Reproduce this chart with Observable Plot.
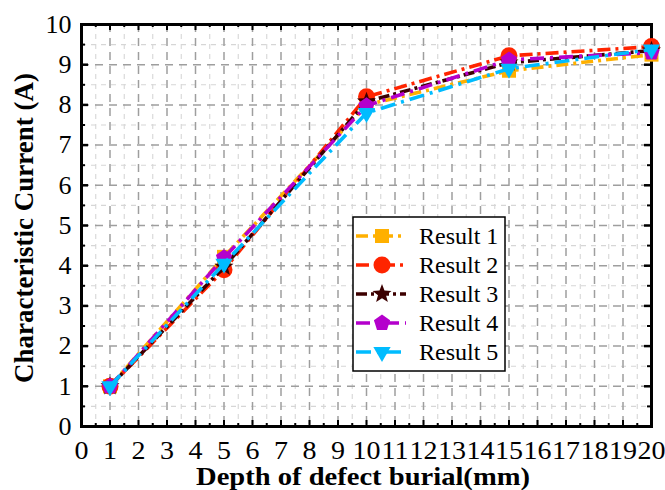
<!DOCTYPE html>
<html><head><meta charset="utf-8">
<script src="https://cdn.jsdelivr.net/npm/d3@7"></script>
<script src="https://cdn.jsdelivr.net/npm/@observablehq/plot@0.6"></script>
<style>
body{margin:0;background:#fff;}
#chart{position:relative;width:665px;height:490px;}
</style>
</head><body><div id="chart"></div>
<script>
// ---- data ----
const depth = [1, 5, 10, 15, 20];
const result1 = [1.0, 4.22, 8.0, 8.85, 9.25];
const result2 = [1.0, 3.9, 8.2, 9.22, 9.45];
const result3 = [1.0, 3.97, 8.08, 9.05, 9.35];
const result4 = [1.0, 4.2, 7.98, 9.12, 9.3];
const result5 = [1.0, 4.05, 7.8, 8.9, 9.38];
const seriesNames = ["Result 1", "Result 2", "Result 3", "Result 4", "Result 5"];
const xTicks = d3.range(0, 21);
const yTicks = d3.range(0, 11);
const xMinor = d3.range(0.5, 20, 1);
const yMinor = d3.range(0.5, 10, 1);
const xLabel = "Depth of defect burial(mm)";
const yLabel = "Characteristic Current (A)";

// ---- symbols ----
const rad = s => Math.sqrt(s / Math.PI);
const symSquare = {draw(c, s){const r = rad(s); c.rect(-r, -r, 2*r, 2*r);}};
const symCircle = {draw(c, s){const r = rad(s); c.moveTo(r, 0); c.arc(0, 0, r, 0, 2*Math.PI);}};
const symStar = {draw(c, s){const R = rad(s), ri = R*0.42;
  for (let k = 0; k < 10; k++){const a = -Math.PI/2 + k*Math.PI/5, rr = k%2 ? ri : R;
    const px = rr*Math.cos(a), py = rr*Math.sin(a); k ? c.lineTo(px, py) : c.moveTo(px, py);} c.closePath();}};
const symPent = {draw(c, s){const R = rad(s);
  for (let k = 0; k < 5; k++){const a = -Math.PI/2 + k*2*Math.PI/5;
    const px = R*Math.cos(a), py = R*Math.sin(a); k ? c.lineTo(px, py) : c.moveTo(px, py);} c.closePath();}};
const symTriDown = {draw(c, s){const R = rad(s);
  c.moveTo(0, R); c.lineTo(-R*0.866, -R*0.5); c.lineTo(R*0.866, -R*0.5); c.closePath();}};

const series = [
  {name: seriesNames[0], values: result1, color: "#FFB000", dash: "12,5,3,5", sym: symSquare, r: 7},
  {name: seriesNames[1], values: result2, color: "#FF2400", dash: "13,5,3,5", sym: symCircle, r: 8.5},
  {name: seriesNames[2], values: result3, color: "#3C0000", dash: "11,4,3,4", sym: symStar, r: 10},
  {name: seriesNames[3], values: result4, color: "#B400CC", dash: "14,6,3,6", sym: symPent, r: 8.5},
  {name: seriesNames[4], values: result5, color: "#00BCFF", dash: "15,6,3,6", sym: symTriDown, r: 10}
];

const W = 665, H = 490, mL = 81, mR = 14, mT = 24, mB = 64;
const FW = W - mL - mR, FH = H - mT - mB;
const serif = "Liberation Serif";

const marks = [
  // grid
  Plot.ruleX(xMinor, {stroke: "#d6d6d6", strokeWidth: 1.1, strokeDasharray: "5,5"}),
  Plot.ruleY(yMinor, {stroke: "#d6d6d6", strokeWidth: 1.1, strokeDasharray: "5,5"}),
  Plot.ruleX(xTicks.slice(1, -1), {stroke: "#9e9e9e", strokeWidth: 1.5, strokeDasharray: "8,6"}),
  Plot.ruleY(yTicks.slice(1, -1), {stroke: "#9e9e9e", strokeWidth: 1.5, strokeDasharray: "8,6"}),
  // inward ticks
  Plot.ruleX(xTicks, {insetTop: FH - 6, stroke: "black", strokeWidth: 2}),
  Plot.ruleX(xTicks, {insetBottom: FH - 6, stroke: "black", strokeWidth: 2}),
  Plot.ruleX(xMinor, {insetTop: FH - 3, stroke: "black", strokeWidth: 2}),
  Plot.ruleX(xMinor, {insetBottom: FH - 3, stroke: "black", strokeWidth: 2}),
  Plot.ruleY(yTicks, {insetRight: FW - 7, stroke: "black", strokeWidth: 2.5}),
  Plot.ruleY(yTicks, {insetLeft: FW - 7, stroke: "black", strokeWidth: 2.5}),
  Plot.ruleY(yMinor, {insetRight: FW - 4, stroke: "black", strokeWidth: 2}),
  Plot.ruleY(yMinor, {insetLeft: FW - 4, stroke: "black", strokeWidth: 2}),
  Plot.frame({stroke: "black", strokeWidth: 3}),
  // tick labels
  Plot.axisX({ticks: xTicks, tickSize: 0, tickPadding: 15, fontSize: 25, fontFamily: serif, fill: "black", label: null, tickFormat: d => String(d)}),
  Plot.axisY({ticks: yTicks, tickSize: 0, tickPadding: 10, fontSize: 26, fontFamily: serif, fill: "black", label: null, tickFormat: d => String(d)})
];

for (const s of series) {
  const pts = depth.map((x, i) => ({x, y: s.values[i]}));
  marks.push(Plot.line(pts, {x: "x", y: "y", stroke: s.color, strokeWidth: 3.6, strokeDasharray: s.dash, strokeLinecap: "butt"}));
  marks.push(Plot.dot(pts, {x: "x", y: "y", symbol: s.sym, r: s.r, fill: s.color, stroke: "none"}));
}

const chart = Plot.plot({
  width: W, height: H,
  marginLeft: mL, marginRight: mR, marginTop: mT, marginBottom: mB,
  x: {domain: [0, 20]},
  y: {domain: [0, 10]},
  style: {background: "white", fontFamily: serif, color: "black"},
  marks
});
document.getElementById("chart").appendChild(chart);

const svg = d3.select(chart);
svg.selectAll('g[aria-label^="x-axis"] text')
  .style("font-family", serif).style("font-size", "25px").style("fill", "black")
  .each(function(){
    const len = this.getComputedTextLength();
    if (len > 0) d3.select(this).attr("textLength", len * 1.12).attr("lengthAdjust", "spacingAndGlyphs");
  });
svg.selectAll('g[aria-label^="y-axis"] text')
  .style("font-family", serif).style("font-size", "26px").style("fill", "black");

// titles
svg.append("text")
  .attr("x", 363).attr("y", 485)
  .attr("textLength", 334).attr("lengthAdjust", "spacingAndGlyphs")
  .style("text-anchor", "middle")
  .style("font-family", serif).style("font-weight", "bold").style("font-size", "26px")
  .style("fill", "black").text(xLabel);
svg.append("text")
  .attr("transform", "translate(33,228) rotate(-90)")
  .attr("textLength", 310).attr("lengthAdjust", "spacingAndGlyphs")
  .style("text-anchor", "middle")
  .style("font-family", serif).style("font-weight", "bold").style("font-size", "27px")
  .style("fill", "black").text(yLabel);

// legend
const lg = svg.append("g");
lg.append("rect").attr("x", 353).attr("y", 217).attr("width", 152).attr("height", 154)
  .attr("fill", "white").attr("stroke", "black").attr("stroke-width", 1.5);
series.forEach((s, i) => {
  const yy = 236 + i * 29;
  lg.append("line").attr("x1", 356).attr("x2", 406).attr("y1", yy).attr("y2", yy)
    .attr("stroke", s.color).attr("stroke-width", 3.6).attr("stroke-dasharray", s.dash);
  lg.append("path").attr("transform", `translate(382,${yy})`)
    .attr("d", d3.symbol(s.sym, s.r * s.r * Math.PI)()).attr("fill", s.color);
  lg.append("text").attr("x", 419).attr("y", yy).attr("dy", "0.35em")
    .style("text-anchor", "start")
    .style("font-family", serif).style("font-size", "24px").style("fill", "black").text(s.name);
});
</script>
</body></html>
